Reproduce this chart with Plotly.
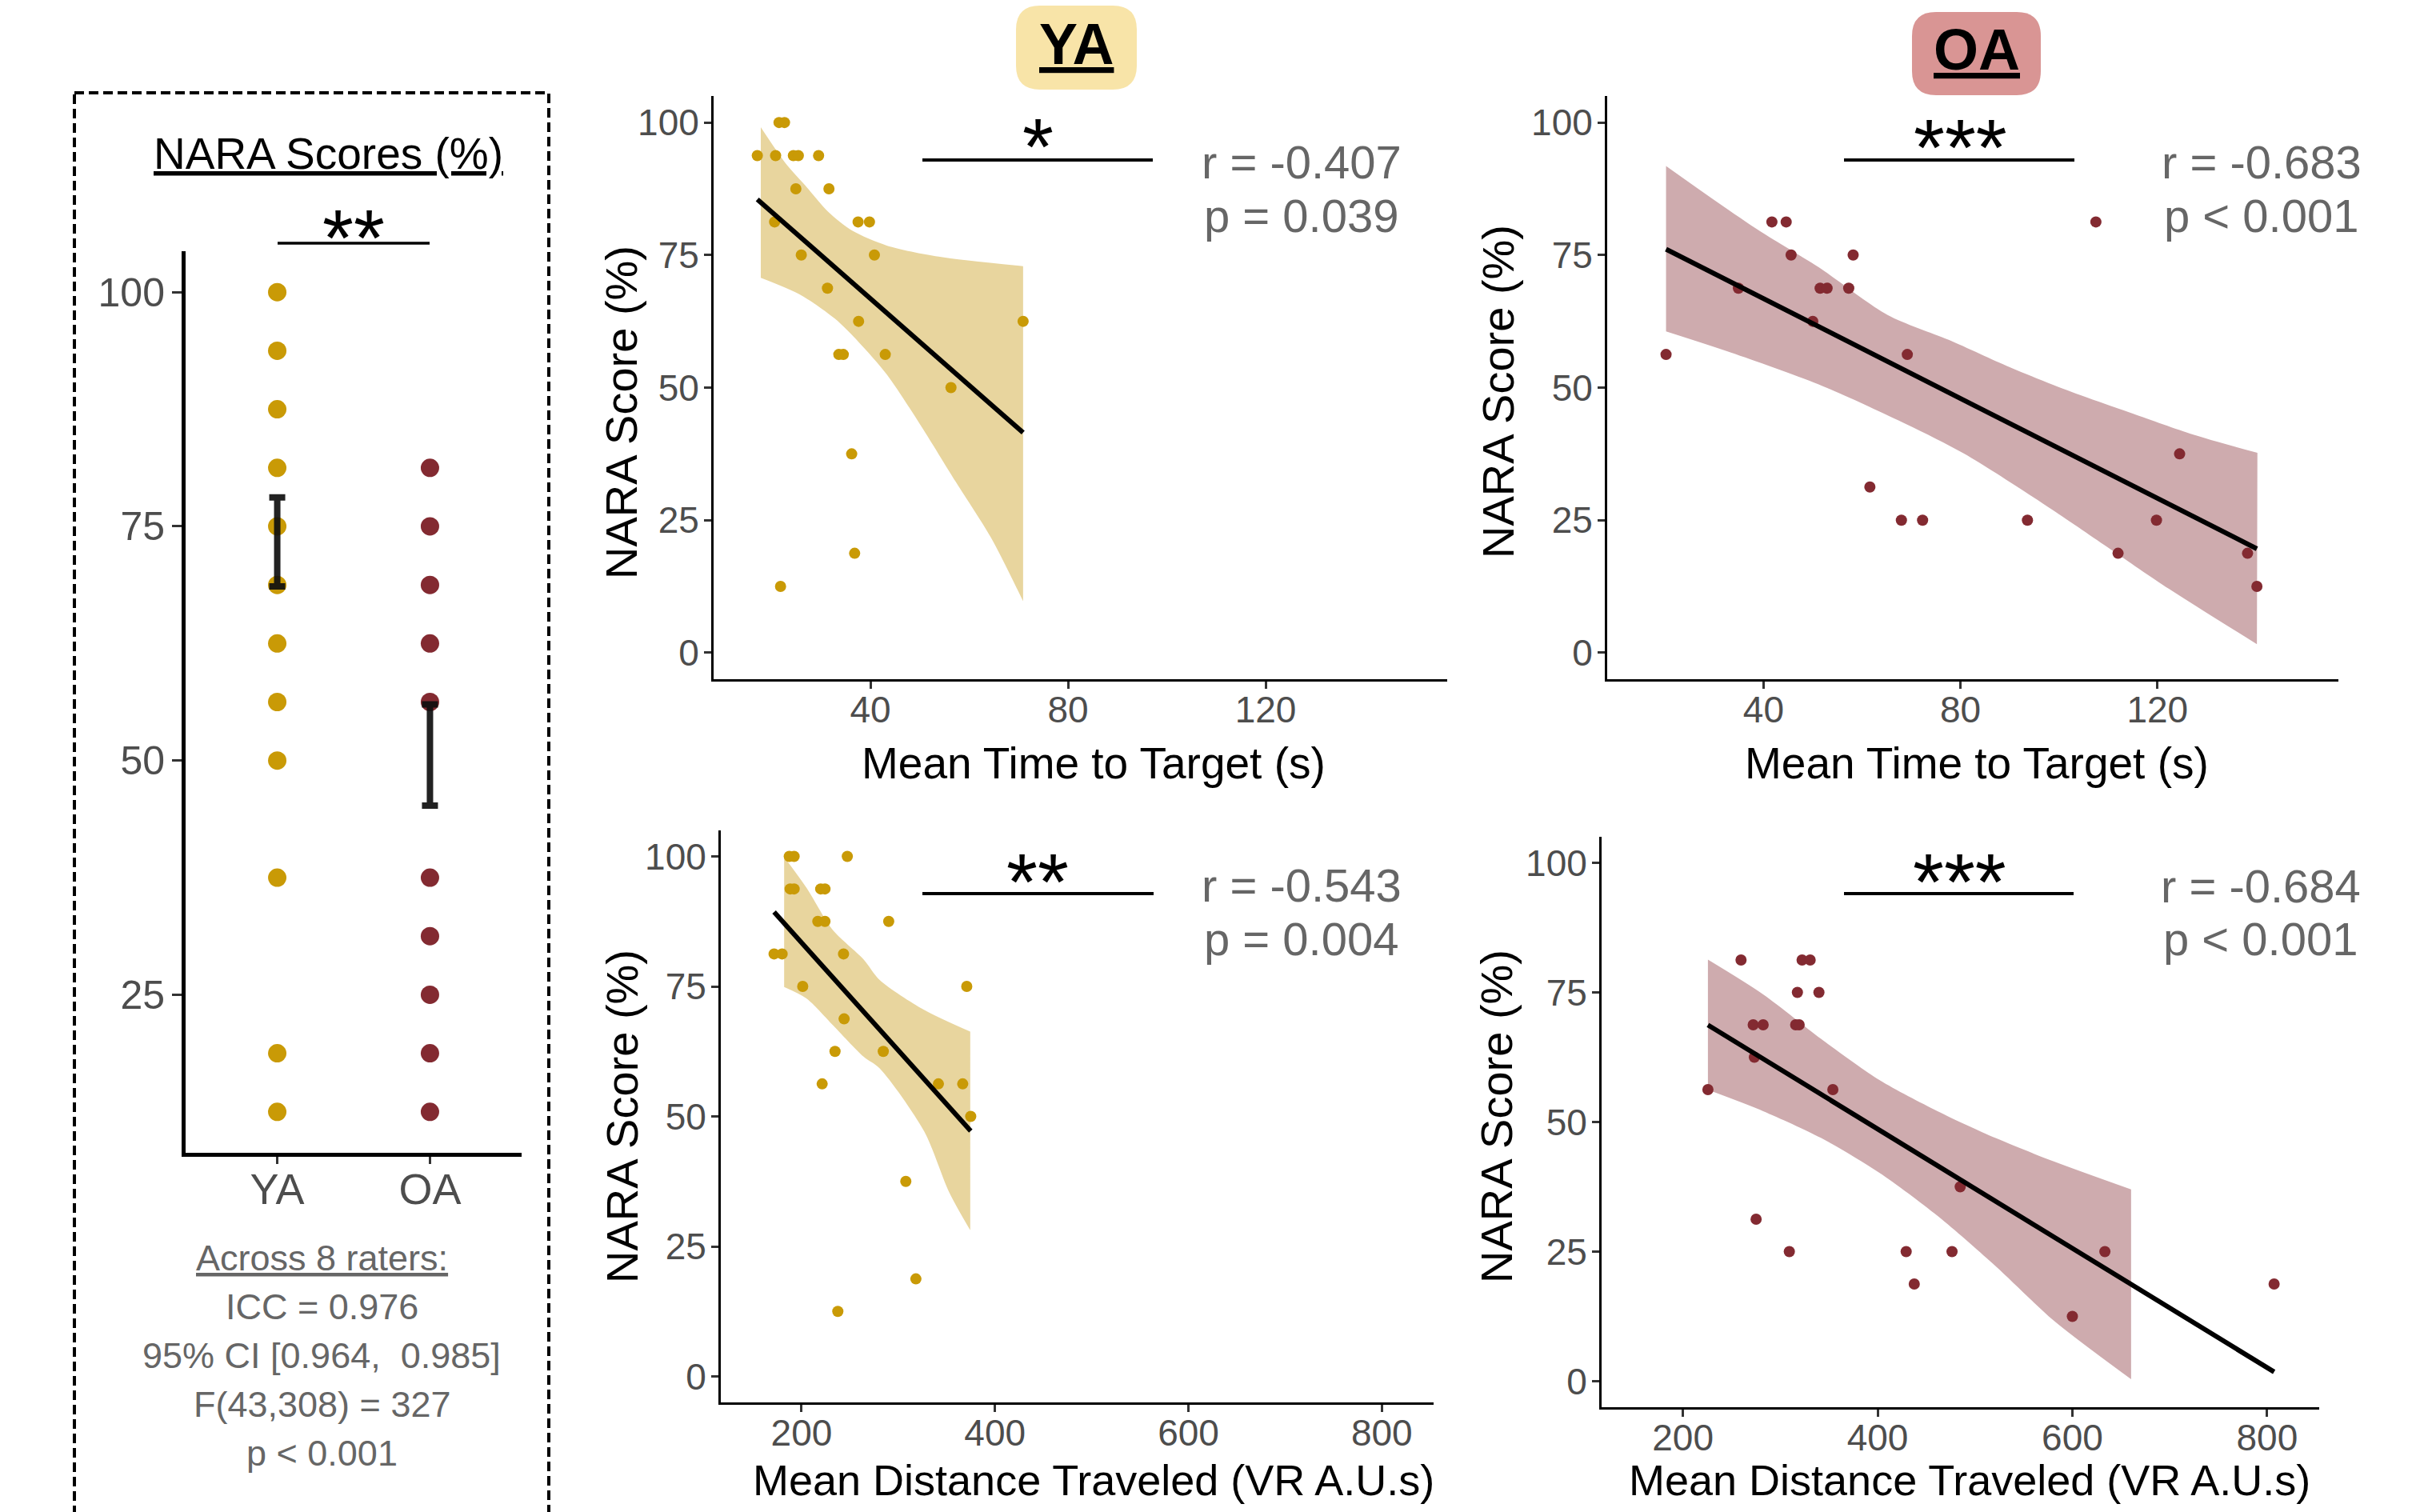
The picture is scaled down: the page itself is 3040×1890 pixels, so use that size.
import plotly.graph_objects as go

W, H = 3040, 1890

# ---------------- data ----------------
groups = ["YA", "OA"]
nara_ya_levels = [100, 93.75, 87.5, 81.25, 75, 68.75, 62.5, 56.25, 50, 37.5, 18.75, 12.5]
nara_oa_levels = [81.25, 75, 68.75, 62.5, 56.25, 37.5, 31.25, 25, 18.75, 12.5]
err_lo = [68.6, 45.2]
err_hi = [78.1, 56.0]

# YA: time to target
ya_time = [17.1, 20.8, 21.5, 22.6, 24.4, 25.4, 29.5, 24.9, 31.6, 20.6, 37.5, 39.8,
           26.0, 40.8, 31.3, 37.6, 33.6, 34.5, 43.0, 56.3, 70.9, 36.2, 36.8, 21.8]
ya_time_score = [93.75, 93.75, 100, 100, 93.75, 93.75, 93.75, 87.5, 87.5, 81.25, 81.25, 81.25,
                 75, 75, 68.75, 62.5, 56.25, 56.25, 56.25, 50, 62.5, 37.5, 18.75, 12.5]
ya_time_fit_x = [17.1, 70.9]
ya_time_fit_y = [85.5, 41.5]
ya_time_up_x = [17.8, 22.9, 27.2, 31.4, 36.3, 43.3, 53.8, 70.9]
ya_time_up_y = [99.1, 92.2, 87.7, 83.2, 79.6, 76.8, 74.7, 72.9]
ya_time_lo_x = [17.8, 25.8, 32.8, 37.7, 43.3, 50.3, 57.3, 64.4, 70.9]
ya_time_lo_y = [70.7, 67.5, 63.0, 58.5, 52.5, 42.7, 32.2, 21.7, 9.7]

# OA: time to target
oa_time = [20.2, 34.9, 41.7, 44.6, 45.6, 58.2, 51.5, 52.9, 57.3, 50.0, 69.2,
           61.6, 68.0, 72.3, 93.6, 107.5, 124.5, 119.8, 112.0, 138.3, 140.2]
oa_time_score = [56.25, 68.75, 81.25, 81.25, 75, 75, 68.75, 68.75, 68.75, 62.5, 56.25,
                 31.25, 25, 25, 25, 81.25, 37.5, 25, 18.75, 18.75, 12.5]
oa_time_fit_x = [20.2, 140.2]
oa_time_fit_y = [76.1, 19.6]
oa_time_up_x = [20.2, 29.8, 39.3, 51.2, 65.2, 77.6, 90.1, 102.5, 115.0, 127.4, 140.3]
oa_time_up_y = [91.8, 85.5, 79.5, 72.7, 63.7, 59.0, 53.8, 49.2, 45.1, 41.1, 37.7]
oa_time_lo_x = [20.2, 33.4, 51.2, 69.0, 80.8, 98.6, 110.5, 122.4, 140.2]
oa_time_lo_y = [60.6, 56.6, 50.6, 43.1, 37.5, 27.0, 19.5, 12.0, 1.6]

# YA: distance traveled
ya_dist = [171.6, 179.9, 187.3, 192.3, 188.2, 192.3, 247.3, 219.8, 224.2, 216.8, 224.2, 290.1, 243.4,
           201.2, 370.8, 244.0, 234.6, 284.5, 221.3, 341.5, 366.6, 374.9, 307.8, 318.2, 237.5]
ya_dist_score = [81.25, 81.25, 100, 100, 93.75, 93.75, 100, 93.75, 93.75, 87.5, 87.5, 87.5, 81.25,
                 75, 75, 68.75, 62.5, 62.5, 56.25, 56.25, 56.25, 50, 37.5, 18.75, 12.5]
ya_dist_fit_x = [171.6, 374.9]
ya_dist_fit_y = [89.3, 47.2]
ya_dist_up_x = [182.0, 205.0, 231.6, 264.1, 281.0, 326.6, 374.4]
ya_dist_up_y = [99.9, 94.0, 86.0, 80.2, 76.2, 70.5, 66.3]
ya_dist_lo_x = [182.0, 205.0, 231.6, 264.1, 281.0, 326.6, 352.7, 374.4]
ya_dist_lo_y = [74.9, 72.7, 67.7, 61.5, 59.2, 47.2, 35.4, 28.1]

# OA: distance traveled
oa_dist = [225.7, 259.7, 322.4, 330.7, 317.6, 339.7, 272.2, 282.4, 315.8, 319.4, 273.4,
           354.0, 484.8, 275.2, 309.3, 429.3, 476.4, 633.4, 437.6, 807.2, 600.0]
oa_dist_score = [56.25, 81.25, 81.25, 81.25, 75, 75, 68.75, 68.75, 68.75, 68.75, 62.5,
                 56.25, 37.5, 31.25, 25, 25, 25, 25, 18.75, 18.75, 12.5]
oa_dist_fit_x = [225.7, 807.2]
oa_dist_fit_y = [68.7, 1.8]
oa_dist_up_x = [225.7, 282.4, 342.1, 401.8, 461.5, 521.2, 580.9, 660.3]
oa_dist_up_y = [81.3, 74.6, 66.0, 58.1, 52.1, 46.9, 42.4, 37.0]
oa_dist_lo_x = [225.7, 282.4, 342.1, 401.8, 461.5, 521.2, 580.9, 660.3]
oa_dist_lo_y = [56.2, 52.1, 46.9, 40.2, 31.9, 22.2, 11.7, 0.4]

stats_text = [("r = -0.407", "p = 0.039"), ("r = -0.683", "p < 0.001"),
              ("r = -0.543", "p = 0.004"), ("r = -0.684", "p < 0.001")]
sig_marks = ["*", "***", "**", "***"]
icc_lines = ["<u>Across 8 raters:</u>", "ICC = 0.976", "95% CI [0.964,  0.985]",
             "F(43,308) = 327", "p < 0.001"]

# ---------------- styles ----------------
GOLD = "#C99A06"
GOLD_BAND = "#E8D59E"
MAROON = "#832A31"
MAROON_BAND = "#CEABAE"
YA_BOX = "#F8E4A8"
OA_BOX = "#D99594"
FONT = "Liberation Sans, Arial, sans-serif"
TICK_COL = "#4D4D4D"
STAT_COL = "#666666"


def px(x):
    return x / W


def py(y):
    return 1 - y / H


fig = go.Figure()

# ---------- left panel ----------
fig.add_trace(go.Scatter(x=["YA"] * len(nara_ya_levels), y=nara_ya_levels, mode="markers",
                         marker=dict(size=23, color=GOLD), xaxis="x", yaxis="y", showlegend=False))
fig.add_trace(go.Scatter(x=["OA"] * len(nara_oa_levels), y=nara_oa_levels, mode="markers",
                         marker=dict(size=23, color=MAROON), xaxis="x", yaxis="y", showlegend=False))
mid = [(a + b) / 2 for a, b in zip(err_lo, err_hi)]
fig.add_trace(go.Scatter(
    x=groups, y=mid, mode="markers", marker=dict(size=1, color="rgba(0,0,0,0)"),
    error_y=dict(type="data", symmetric=False,
                 array=[h - m for h, m in zip(err_hi, mid)],
                 arrayminus=[m - l for l, m in zip(err_lo, mid)],
                 color="rgba(15,15,15,0.92)", thickness=8, width=10),
    xaxis="x", yaxis="y", showlegend=False))

# ---------- scatter panels ----------
panels = [
    ("2", ya_time, ya_time_score, ya_time_fit_x, ya_time_fit_y, ya_time_up_x, ya_time_up_y,
     ya_time_lo_x, ya_time_lo_y, GOLD, GOLD_BAND),
    ("3", oa_time, oa_time_score, oa_time_fit_x, oa_time_fit_y, oa_time_up_x, oa_time_up_y,
     oa_time_lo_x, oa_time_lo_y, MAROON, MAROON_BAND),
    ("4", ya_dist, ya_dist_score, ya_dist_fit_x, ya_dist_fit_y, ya_dist_up_x, ya_dist_up_y,
     ya_dist_lo_x, ya_dist_lo_y, GOLD, GOLD_BAND),
    ("5", oa_dist, oa_dist_score, oa_dist_fit_x, oa_dist_fit_y, oa_dist_up_x, oa_dist_up_y,
     oa_dist_lo_x, oa_dist_lo_y, MAROON, MAROON_BAND),
]
for k, xs, ys, fx, fy, ux, uy, lx, ly, col, band in panels:
    xa, ya = "x" + k, "y" + k
    fig.add_trace(go.Scatter(x=lx, y=ly, mode="lines", line=dict(width=0, shape="spline", smoothing=0.8),
                             xaxis=xa, yaxis=ya, showlegend=False, hoverinfo="skip"))
    fig.add_trace(go.Scatter(x=ux, y=uy, mode="lines", line=dict(width=0, shape="spline", smoothing=0.8),
                             fill="tonexty", fillcolor=band,
                             xaxis=xa, yaxis=ya, showlegend=False, hoverinfo="skip"))
    fig.add_trace(go.Scatter(x=xs, y=ys, mode="markers", marker=dict(size=14, color=col),
                             xaxis=xa, yaxis=ya, showlegend=False))
    fig.add_trace(go.Scatter(x=fx, y=fy, mode="lines", line=dict(color="black", width=6),
                             xaxis=xa, yaxis=ya, showlegend=False))

# ---------- axes ----------
def axis_common(lw=3, ticklen=9, size=46, standoff=0):
    return dict(showline=True, linecolor="black", linewidth=lw, ticks="outside", ticklen=ticklen,
                tickwidth=3, tickcolor="#333333", showgrid=False, zeroline=False,
                tickfont=dict(family=FONT, size=size, color=TICK_COL), ticklabelstandoff=standoff)


layout = dict(
    width=W, height=H, margin=dict(l=0, r=0, t=0, b=0), autosize=False,
    paper_bgcolor="white", plot_bgcolor="rgba(0,0,0,0)", showlegend=False,
)
layout["xaxis"] = dict(axis_common(lw=5, ticklen=9, size=54, standoff=-15), domain=[px(232), px(652)],
                       anchor="y", type="category", categoryorder="array", categoryarray=groups,
                       range=[-0.6, 1.6])
layout["yaxis"] = dict(axis_common(lw=5, ticklen=12, size=50, standoff=-1), domain=[py(1441), py(314)],
                       anchor="x", range=[8.125, 104.375], tickvals=[25, 50, 75, 100])

yt = [0, 25, 50, 75, 100]
boxes = {
    "2": ((892, 1809), (120, 849), [8.25, 156.75], [40, 80, 120]),
    "3": ((2009, 2923), (120, 849), [8.25, 156.75], [40, 80, 120]),
    "4": ((901, 1792), (1038, 1753), [116.5, 853.5], [200, 400, 600, 800]),
    "5": ((2002, 2899), (1046, 1759), [116.5, 853.5], [200, 400, 600, 800]),
}
for k, (xd, yd, xr, xt) in boxes.items():
    layout["xaxis" + k] = dict(axis_common(standoff=-13), domain=[px(xd[0]), px(xd[1])], anchor="y" + k,
                               range=xr, tickvals=xt)
    layout["yaxis" + k] = dict(axis_common(standoff=-3), domain=[py(yd[1]), py(yd[0])], anchor="x" + k,
                               range=[-5, 105], tickvals=yt)
fig.update_layout(**layout)

# ---------- annotations ----------
ann = []


def text(x, y, t, size, color="black", family=FONT, angle=0):
    ann.append(dict(x=px(x), y=py(y), xref="paper", yref="paper", text=t, showarrow=False,
                    xanchor="center", yanchor="middle", textangle=angle,
                    font=dict(family=family, size=size, color=color)))


# headers
text(1345, 55, "<b><u>YA</u></b>", 72)
text(2471, 62, "<b><u>OA</u></b>", 72)
# left panel title
text(411, 192, "<u>NARA Scores (%)</u>", 55)
text(442, 281 + 16, "**", 100)
# ICC block
for i, t in enumerate(icc_lines):
    text(402, 1572 + i * 61, t, 45, color=STAT_COL)

# axis titles
for (x, y) in [(1367, 954), (2471, 954)]:
    text(x, y, "Mean Time to Target (s)", 55)
for (x, y) in [(1367, 1850), (2462, 1850)]:
    text(x, y, "Mean Distance Traveled (VR A.U.s)", 54)
for (x, y) in [(777, 516), (1872, 490), (777, 1396), (1870, 1396)]:
    text(x, y, "NARA Score (%)", 56, angle=-90)

# stats and significance
stat_pos = [(1627, 203, 270), (2827, 203, 270), (1627, 1106, 1173), (2826, 1107, 1173)]
for (x, y1, y2), (r, p) in zip(stat_pos, stats_text):
    text(x, y1, r, 58, color=STAT_COL)
    text(x, y2, p, 58, color=STAT_COL)
sig_pos = [(1297, 167), (2450, 168), (1297, 1086), (2449, 1086)]
for (x, y), m in zip(sig_pos, sig_marks):
    text(x, y + 16, m, 100)

fig.update_layout(annotations=ann)

# ---------- shapes ----------
shapes = []


def hline(x0, x1, y, w=4):
    shapes.append(dict(type="line", xref="paper", yref="paper", x0=px(x0), x1=px(x1), y0=py(y), y1=py(y),
                       line=dict(color="black", width=w)))


hline(347, 537, 304, 3.5)
hline(1153, 1441, 200)
hline(2305, 2593, 200)
hline(1153, 1442, 1117)
hline(2305, 2592, 1117)


def rrect(x0, y0, x1, y1, r, color):
    pts = [
        ("M", (x0 + r, y0)), ("L", (x1 - r, y0)), ("Q", (x1, y0), (x1, y0 + r)),
        ("L", (x1, y1 - r)), ("Q", (x1, y1), (x1 - r, y1)), ("L", (x0 + r, y1)),
        ("Q", (x0, y1), (x0, y1 - r)), ("L", (x0, y0 + r)), ("Q", (x0, y0), (x0 + r, y0)),
    ]
    s = ""
    for item in pts:
        cmd = item[0]
        coords = " ".join(f"{px(a):.5f},{py(b):.5f}" for a, b in item[1:])
        s += f"{cmd} {coords} "
    s += "Z"
    shapes.append(dict(type="path", xref="paper", yref="paper", path=s, fillcolor=color,
                       line=dict(width=0), layer="below"))


rrect(1270, 7, 1421, 112, 30, YA_BOX)
rrect(2390, 15, 2551, 119, 30, OA_BOX)

# dashed frame around left panel
shapes.append(dict(type="rect", xref="paper", yref="paper", x0=px(93), x1=px(686), y0=py(116), y1=py(1960),
                   line=dict(color="black", width=4, dash="12px,6px"), fillcolor="rgba(0,0,0,0)"))

fig.update_layout(shapes=shapes)

fig.write_html("out.html", config={"displayModeBar": False},
               post_script="document.body.style.margin='0';document.body.style.overflow='hidden';")
